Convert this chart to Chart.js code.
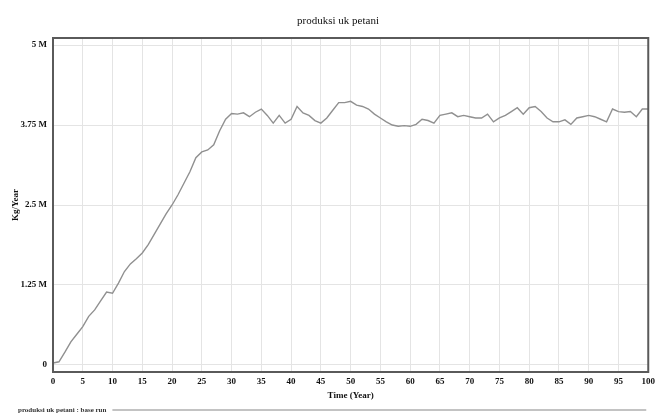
<!DOCTYPE html>
<html>
<head>
<meta charset="utf-8">
<script src="https://cdn.jsdelivr.net/npm/chart.js@4.4.0/dist/chart.umd.min.js"></script>
<style>
  body { margin: 0; background: #fff; }
  #wrap { width: 659px; height: 416px; }
</style>
</head>
<body>
<div id="wrap"><canvas id="chart"></canvas></div>
<script>
// time axis (years)
const years = [];
for (let i = 0; i <= 100; i++) years.push(i);

// produksi uk petani, base run (Kg/Year, in millions)
const produksi = [
  0.03, 0.05, 0.20, 0.36, 0.48, 0.60, 0.76, 0.86, 1.00, 1.14,
  1.12, 1.28, 1.46, 1.58, 1.66, 1.75, 1.88, 2.04, 2.20, 2.36,
  2.50, 2.66, 2.84, 3.02, 3.24, 3.33, 3.36, 3.44, 3.66, 3.84,
  3.93, 3.92, 3.94, 3.88, 3.95, 4.00, 3.90, 3.78, 3.90, 3.78,
  3.84, 4.04, 3.94, 3.90, 3.82, 3.78, 3.86, 3.98, 4.10, 4.10,
  4.12, 4.06, 4.04, 4.00, 3.92, 3.86, 3.80, 3.75, 3.73, 3.74,
  3.73, 3.76, 3.84, 3.82, 3.78, 3.90, 3.92, 3.94, 3.88, 3.90,
  3.88, 3.86, 3.86, 3.92, 3.80, 3.86, 3.90, 3.96, 4.02, 3.92,
  4.02, 4.04, 3.96, 3.86, 3.80, 3.80, 3.83, 3.76, 3.86, 3.88,
  3.90, 3.88, 3.84, 3.80, 4.00, 3.96, 3.95, 3.96, 3.88, 4.00,
  4.00
];

const yTicks = [0, 1.25e6, 2.5e6, 3.75e6, 5e6];
const yTickLabels = ['0', '1.25 M', '2.5 M', '3.75 M', '5 M'];

const chartTitle = 'produksi uk petani';
const legendText = 'produksi uk petani : base run';

const points = years.map((t, i) => ({ x: t, y: produksi[i] * 1e6 }));

const serif = '"Liberation Serif", "Times New Roman", serif';

// title, frame and the little legend line at the bottom
const decorations = {
  id: 'decorations',
  afterDraw(chart) {
    const { ctx, chartArea: a } = chart;
    ctx.save();
    ctx.font = '11px ' + serif;
    ctx.fillStyle = '#111';
    ctx.textAlign = 'center';
    ctx.textBaseline = 'middle';
    ctx.fillText(chartTitle, 338, 21);

    ctx.strokeStyle = '#5a5a5a';
    ctx.lineWidth = 2;
    ctx.strokeRect(a.left, a.top, a.right - a.left, a.bottom - a.top);

    ctx.font = 'bold 7px ' + serif;
    ctx.fillStyle = '#333';
    ctx.textAlign = 'left';
    ctx.fillText(legendText, 18, 410);
    const w = ctx.measureText(legendText).width;
    ctx.strokeStyle = '#888';
    ctx.lineWidth = 1.2;
    ctx.beginPath();
    ctx.moveTo(18 + w + 6, 410);
    ctx.lineTo(a.right - 2, 410);
    ctx.stroke();
    ctx.restore();
  }
};

new Chart(document.getElementById('chart'), {
  type: 'line',
  data: {
    datasets: [{
      label: legendText,
      data: points,
      borderColor: '#909090',
      borderWidth: 1.4,
      pointRadius: 0,
      fill: false,
      tension: 0
    }]
  },
  options: {
    responsive: true,
    maintainAspectRatio: false,
    animation: false,
    layout: { padding: { top: 38, right: 7, bottom: 0, left: 0 } },
    plugins: {
      legend: { display: false },
      tooltip: { enabled: false },
      title: { display: false }
    },
    scales: {
      x: {
        type: 'linear',
        min: 0,
        max: 100,
        ticks: {
          stepSize: 5,
          color: '#111',
          font: { family: serif, size: 9, weight: 'bold' },
          padding: 4,
          maxRotation: 0
        },
        grid: { color: '#e4e4e4', drawTicks: false },
        border: { display: false },
        title: {
          display: true,
          text: 'Time (Year)',
          color: '#111',
          font: { family: serif, size: 9, weight: 'bold' },
          padding: { top: 0, bottom: 15 }
        },
        afterFit(scale) { scale.height = 44; }
      },
      y: {
        min: -0.11e6,
        max: 5.11e6,
        afterBuildTicks(scale) {
          scale.ticks = yTicks.map(v => ({ value: v }));
        },
        ticks: {
          color: '#111',
          font: { family: serif, size: 9, weight: 'bold' },
          padding: 6,
          callback(v) {
            const i = yTicks.indexOf(v);
            return i >= 0 ? yTickLabels[i] : '';
          }
        },
        grid: { color: '#e4e4e4', drawTicks: false },
        border: { display: false },
        title: {
          display: true,
          text: 'Kg/Year',
          color: '#111',
          font: { family: serif, size: 9, weight: 'bold' },
          padding: { top: 10, bottom: 0 }
        },
        afterFit(scale) { scale.width = 53; }
      }
    }
  },
  plugins: [decorations]
});
</script>
</body>
</html>
